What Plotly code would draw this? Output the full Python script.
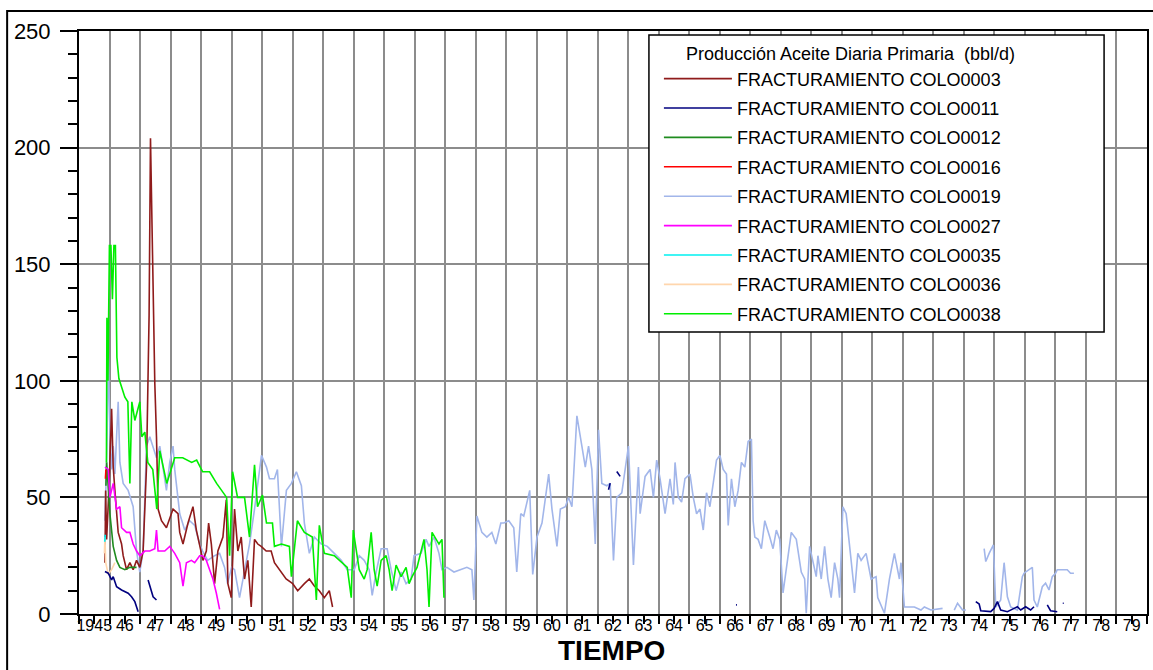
import plotly.graph_objects as go

# ---------------- data (decimal years, bbl/d) ----------------
t_0003 = [1945.850, 1945.873, 1945.905, 1945.990, 1946.069, 1946.121, 1946.176, 1946.232, 1946.284, 1946.395,
          1946.448, 1946.559, 1946.667, 1946.775, 1946.886, 1946.993, 1947.101, 1947.212, 1947.297, 1947.343,
          1947.428, 1947.484, 1947.539, 1947.592, 1947.703, 1947.866, 1948.082, 1948.245, 1948.301, 1948.408,
          1948.572, 1948.735, 1948.846, 1948.954, 1949.062, 1949.173, 1949.248, 1949.337, 1949.444, 1949.552,
          1949.716, 1949.827, 1949.879, 1949.990, 1950.098, 1950.206, 1950.317, 1950.425, 1950.533, 1950.644,
          1950.752, 1950.859, 1950.971, 1951.134, 1951.297, 1951.405, 1951.569, 1951.788, 1952.003, 1952.167,
          1952.386, 1952.549, 1952.712, 1952.876, 1953.039, 1953.203, 1953.310]
v_0003 = [22, 53, 32, 56, 88, 63, 53, 45, 35, 30,
          25, 19, 22, 19, 23, 20, 27, 63, 128, 204,
          128, 99, 76, 45, 40, 37, 45, 43, 35, 30,
          39, 46, 36, 30, 23, 27, 39, 30, 13, 27,
          33, 49, 13, 7, 45, 27, 33, 15, 23, 3,
          32, 30, 29, 27, 27, 22, 19, 15, 13, 10,
          13, 15, 12, 10, 7, 10, 3]

t_0011 = [1945.850, 1945.958, 1946.069, 1946.121, 1946.232, 1946.395, 1946.611, 1946.722, 1946.830, 1946.938,
          None, 1947.265, 1947.353, 1947.428, 1947.539,
          None, 1962.353, 1962.408, None, 1962.624, 1962.735,
          None, 1966.530, 1966.560,
          None, 1974.389, 1974.500, 1974.552, 1974.879, 1974.990, 1975.098, 1975.206, 1975.425, 1975.644,
          1975.752, 1975.860, 1976.023, 1976.186, 1976.297,
          None, 1976.732, 1976.840, 1977.059,
          None, 1977.240, 1977.270]
v_0011 = [18.2, 17.5, 14.6, 16, 11.7, 10.3, 8.9, 7.4, 5.3, 1,
          None, 14.6, 10.3, 7.4, 6,
          None, 53.3, 56.1, None, 61.1, 59,
          None, 3.9, 3.9,
          None, 5.3, 4.3, 1.4, 1, 2.4, 5.3, 1.7, 1, 2.4,
          3.1, 1.7, 3.1, 1.7, 3.1,
          None, 3.9, 1.4, 1,
          None, 4.6, 4.6]

t_0012 = [1945.882, 1945.905, 1946.013, 1946.121, 1946.232, 1946.340, 1946.503, 1946.667, 1946.886]
v_0012 = [55, 65, 43, 29, 23, 20, 19, 20, 20]

t_0016 = [1945.866, 1945.882]
v_0016 = [58, 62]

t_0019 = [1945.850, 1945.915, 1945.958, 1946.013, 1946.069, 1946.121, 1946.176, 1946.284, 1946.340, 1946.448,
          1946.611, 1946.775, 1946.886, 1946.993, 1947.101, 1947.212, 1947.320, 1947.428, 1947.539, 1947.647,
          1947.755, 1947.866, 1947.974, 1948.082, 1948.137, 1948.301, 1948.464, 1948.627, 1948.791, 1948.954,
          1949.052, 1949.216, 1949.444, 1949.608, 1949.771, 1949.869, 1950.000, 1950.098, 1950.261, 1950.588,
          1950.752, 1950.980, 1951.144, 1951.242, 1951.405, 1951.503, 1951.634, 1951.797, 1951.961, 1952.124,
          1952.288, 1952.386, 1952.549, 1952.712, 1952.941, 1953.137, 1953.366, 1953.595, 1953.791, 1954.020,
          1954.183, 1954.346, 1954.510, 1954.608, 1954.739, 1954.902, 1955.098, 1955.229, 1955.392, 1955.556,
          1955.719, 1955.882, 1955.980, 1956.209, 1956.373, 1956.471, 1956.634, 1956.797, 1956.895, 1957.059,
          1957.288, 1957.516, 1957.712, 1957.876, 1957.941, 1958.039, 1958.203, 1958.366, 1958.529, 1958.660,
          1958.824, 1958.922, 1959.085, 1959.248, 1959.346, 1959.477, 1959.575, 1959.771, 1959.869, 1960.010,
          1960.173, 1960.392, 1960.500, 1960.663, 1960.775, 1960.938, 1961.046, 1961.154, 1961.317, 1961.480,
          1961.592, 1961.699, 1961.807, 1961.918, 1962.026, 1962.134, 1962.297, 1962.408, 1962.516, 1962.624,
          1962.788, 1963.007, 1963.170, 1963.333, 1963.389, 1963.552, 1963.716, 1963.824, 1963.931, 1964.042,
          1964.206, 1964.369, 1964.477, 1964.533, 1964.641, 1964.748, 1964.859, 1965.023, 1965.131, 1965.239,
          1965.350, 1965.458, 1965.565, 1965.676, 1965.892, 1966.003, 1966.111, 1966.219, 1966.275, 1966.382,
          1966.493, 1966.601, 1966.709, 1966.820, 1966.928, 1967.036, 1967.092, 1967.147, 1967.255, 1967.363,
          1967.474, 1967.637, 1967.745, 1967.853, 1967.964, 1968.072, 1968.235, 1968.343, 1968.507, 1968.670,
          1968.781, 1968.833, 1968.944, 1969.052, 1969.160, 1969.216, 1969.324, 1969.435, 1969.543, 1969.650,
          1969.762, 1969.869, 1969.925, 1970.033, 1970.141, 1970.304, 1970.415, 1970.523, 1970.631, 1970.794,
          1970.958, 1971.121, 1971.176, 1971.395, 1971.559, 1971.722, 1971.886, 1971.938, 1972.049, 1972.376,
          1972.592, 1972.703, 1972.918, 1973.301,
          None, 1973.683, 1973.791, 1973.954, 1974.062,
          None, 1974.663, 1974.716, 1974.827, 1974.967, 1975.043, 1975.206, 1975.317, 1975.425, 1975.533,
          1975.752, 1975.915, 1975.971, 1976.134, 1976.242, 1976.297, 1976.405, 1976.569, 1976.676, 1976.788,
          1976.895, 1977.003, 1977.059, 1977.386, 1977.494, 1977.605]
v_0019 = [40, 70, 112, 80, 62, 72, 60, 91, 65, 56,
          53, 46, 27, 18, 27, 72, 76, 72, 67, 72,
          62, 53, 65, 72, 62, 43, 36, 40, 38, 30,
          27, 23, 25, 26, 20, 13, 20, 19, 7, 30,
          45, 68, 63, 58, 58, 62, 29, 53, 56, 61,
          55, 39, 26, 33, 30, 29, 26, 23, 19, 19,
          25, 23, 19, 8, 18, 28, 28, 19, 10, 18,
          13, 15, 25, 26, 32, 29, 33, 26, 19, 20,
          18, 19, 20, 19, 6, 42, 35, 33, 35, 30,
          39, 39, 40, 37, 18, 43, 42, 53, 17, 33,
          39, 60, 45, 29, 45, 46, 50, 46, 85, 72,
          63, 72, 62, 30, 79, 56, 55, 56, 23, 50,
          52, 72, 21, 63, 43, 59, 62, 50, 66, 58,
          43, 58, 47, 65, 50, 48, 58, 60, 50, 43,
          45, 36, 52, 46, 66, 68, 62, 60, 38, 58,
          46, 53, 65, 63, 74, 75, 40, 33, 32, 28,
          40, 33, 28, 36, 32, 9, 25, 35, 32, 18,
          15, 0.3, 29, 22, 16, 25, 15, 29, 15, 7,
          22, 15, 7, 46, 43, 23, 9, 26, 23, 26,
          15, 16, 7, 0.3, 15, 26, 15, 22, 3, 3,
          1.7, 3, 1.7, 2.4,
          None, 1.7, 4.6, 1.7, 1.7,
          None, 28, 22.5, 26, 29.6, 3, 6, 22, 7.4, 3,
          1.7, 16, 17.5, 19, 20, 6, 3, 11.7, 13.2, 10.3,
          16, 17.5, 19, 19, 17.5, 17.5]

t_0027 = [1945.850, 1945.958, 1946.013, 1946.121, 1946.232, 1946.340, 1946.395, 1946.559, 1946.667, 1946.775,
          1946.886, 1946.993, 1947.157, 1947.320, 1947.484, 1947.539, 1947.592, 1947.810, 1947.974, 1948.137,
          1948.301, 1948.408, 1948.520, 1948.683, 1948.791, 1948.954, 1949.052, 1949.173, 1949.281, 1949.389,
          1949.500, 1949.608]
v_0027 = [63, 62, 50, 56, 45, 46, 37, 35, 35, 30,
          27, 25, 27, 27, 28, 36, 27, 27, 29, 26,
          22, 12, 22, 23, 22, 25, 25, 23, 19, 15,
          9, 2]

t_0035 = [1945.843, 1945.859]
v_0035 = [31, 34]

t_0036 = [1945.833, 1945.850, 1945.876, 1945.958, 1946.069, 1946.176]
v_0036 = [26, 33, 22, 17, 19, 22]

t_0038 = [1945.899, 1945.915, 1945.948, 1945.997, 1946.046, 1946.095, 1946.144, 1946.193, 1946.242, 1946.307,
          1946.503, 1946.601, 1946.667, 1946.732, 1946.830, 1946.993, 1947.059, 1947.157, 1947.255, 1947.418,
          1947.549, 1947.647, 1947.876, 1948.137, 1948.399, 1948.693, 1948.856, 1949.052, 1949.281, 1949.510,
          1949.837, 1949.935, 1950.033, 1950.196, 1950.425, 1950.588, 1950.752, 1950.850, 1951.013, 1951.144,
          1951.340, 1951.405, 1951.634, 1951.895, 1951.961, 1952.157, 1952.386, 1952.647, 1952.778, 1952.876,
          1953.039, 1953.366, 1953.791, 1953.922, 1953.987, 1954.183, 1954.346, 1954.444, 1954.575, 1954.673,
          1954.771, 1954.902, 1955.065, 1955.163, 1955.261, 1955.392, 1955.556, 1955.719, 1955.817, 1955.915,
          1956.078, 1956.307, 1956.405, 1956.471, 1956.569, 1956.699, 1956.797, 1956.895, 1956.961]
v_0038 = [65, 127, 100, 158, 158, 135, 158, 158, 110, 101,
          93, 91, 56, 91, 83, 91, 76, 78, 65, 62,
          45, 70, 56, 67, 67, 65, 66, 61, 61, 56,
          50, 25, 61, 50, 50, 33, 64, 46, 51, 39,
          39, 29, 30, 29, 16, 40, 35, 33, 6, 38,
          26, 25, 20, 7, 36, 19, 15, 19, 35, 19,
          12, 23, 25, 19, 10, 21, 16, 20, 13, 16,
          20, 32, 19, 3, 35, 32, 30, 32, 7]

series_names = ["FRACTURAMIENTO COLO0003", "FRACTURAMIENTO COLO0011", "FRACTURAMIENTO COLO0012",
                "FRACTURAMIENTO COLO0016", "FRACTURAMIENTO COLO0019", "FRACTURAMIENTO COLO0027",
                "FRACTURAMIENTO COLO0035", "FRACTURAMIENTO COLO0036", "FRACTURAMIENTO COLO0038"]
series_colors = ["#8f1b1b", "#00007f", "#1f8c1f", "#ff0000", "#a2b6ea",
                 "#ff00ff", "#00f0f0", "#ffd6ad", "#00ee00"]
series_t = [t_0003, t_0011, t_0012, t_0016, t_0019, t_0027, t_0035, t_0036, t_0038]
series_v = [v_0003, v_0011, v_0012, v_0016, v_0019, v_0027, v_0035, v_0036, v_0038]

year_ticks = list(range(1945, 1981))
label_pos = [y + 0.5 for y in range(1945, 1980)]
label_text = ["1945"] + [str(y)[2:] for y in range(1946, 1980)]
y_ticks = [0, 50, 100, 150, 200, 250]

legend_title = "Producción Aceite Diaria Primaria  (bbl/d)"
x_title = "TIEMPO"

# ---------------- figure ----------------
W, H = 1153, 670
ML, MR, MT, MB = 79, 4, 31, 56
PW, PH = W - ML - MR, H - MT - MB

def px(x):
    return (x - ML) / PW

def py(y):
    return (H - MB - y) / PH

REG = "Liberation Sans, Arial, sans-serif"

fig = go.Figure()
draw_order = [4, 0, 2, 5, 7, 6, 3, 8, 1]
for i in range(len(series_names)):
    fig.add_trace(go.Scatter(
        x=series_t[i], y=series_v[i], name=series_names[i], mode="lines",
        line=dict(color=series_colors[i], width=1.6),
        legendgroup="g%d" % i, legendrank=i + 1,
        connectgaps=False, hoverinfo="skip"))
fig.data = tuple(fig.data[i] for i in draw_order)

grid = "#8c8c8c"
fig.update_layout(
    width=W, height=H,
    margin=dict(l=ML, r=MR, t=MT, b=MB, pad=0),
    paper_bgcolor="white", plot_bgcolor="white",
    font=dict(family=REG, color="black"),
    showlegend=True,
    xaxis=dict(
        range=[1945, 1980], tickmode="array", tickvals=year_ticks,
        ticktext=[""] * len(year_ticks),
        showgrid=True, gridcolor=grid, gridwidth=1.5,
        ticks="outside", ticklen=8, tickcolor="black", tickwidth=1.5,
        showline=True, linecolor="black", linewidth=2, mirror=True,
        zeroline=False,
        minor=dict(dtick=0.5, tick0=1945, ticks="outside", ticklen=8,
                   tickcolor="black", tickwidth=1.5, showgrid=False),
    ),
    xaxis2=dict(
        overlaying="x", anchor="y", side="bottom",
        range=[1945, 1980], tickmode="array", tickvals=label_pos, ticktext=label_text,
        showgrid=False, showline=False, ticks="", zeroline=False, tickangle=0,
        tickfont=dict(family=REG, size=16, color="black"),
        ticklabelstandoff=0,
    ),
    yaxis=dict(
        range=[0, 250], tickmode="array", tickvals=y_ticks,
        showgrid=True, gridcolor=grid, gridwidth=1.5,
        ticks="outside", ticklen=17, tickcolor="black", tickwidth=1.5,
        showline=True, linecolor="black", linewidth=2, mirror=True,
        zeroline=False,
        tickfont=dict(family=REG, size=22, color="black"),
        ticklabelstandoff=5,
        minor=dict(dtick=10, ticks="outside", ticklen=9, tickcolor="black",
                   tickwidth=1.5, showgrid=False),
    ),
    legend=dict(
        x=px(660), y=py(37), xanchor="left", yanchor="top",
        bgcolor="rgba(0,0,0,0)", borderwidth=0,
        font=dict(family=REG, size=18, color="black"),
        title=dict(text="\u00a0" * 5 + legend_title, font=dict(family=REG, size=18, color="black")),
        itemwidth=68, tracegroupgap=3, traceorder="grouped",
    ),
)

# dummy trace so the label axis is drawn
fig.add_trace(go.Scatter(x=[1945, 1980], y=[None, None], xaxis="x2", yaxis="y",
                         showlegend=False, hoverinfo="skip", mode="lines"))

# legend box
fig.add_shape(type="rect", xref="paper", yref="paper",
              x0=px(650), x1=px(1106), y0=py(332), y1=py(35),
              line=dict(color="black", width=1.5), fillcolor="white", layer="above")
# outer frame
fig.add_shape(type="rect", xref="paper", yref="paper",
              x0=px(7), x1=px(1165), y0=py(690), y1=py(11),
              line=dict(color="black", width=2), fillcolor="rgba(0,0,0,0)", layer="above")

fig.add_annotation(text="<b>" + x_title + "</b>", xref="paper", yref="paper",
                   x=px(612), y=py(633), xanchor="center", yanchor="top", showarrow=False,
                   font=dict(family=REG, size=28, color="black"))

fig.write_html("out.html")
